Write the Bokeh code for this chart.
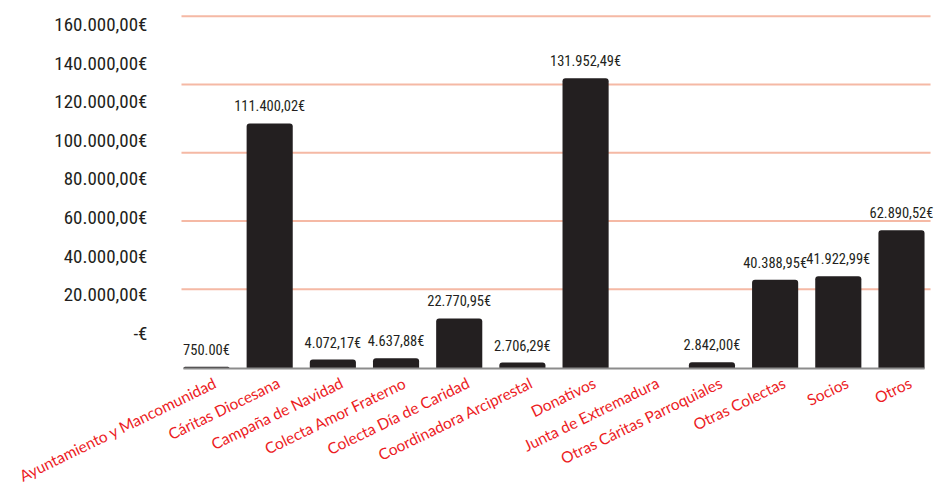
from bokeh.plotting import figure
from bokeh.models import Range1d, LabelSet, ColumnDataSource
from bokeh.core.properties import value
from bokeh.embed import file_html
from bokeh.resources import INLINE

categories = [
    "Ayuntamiento y Mancomunidad", "Cáritas Diocesana", "Campaña de Navidad",
    "Colecta Amor Fraterno", "Colecta Día de Caridad", "Coordinadora Arciprestal",
    "Donativos", "Junta de Extremadura", "Otras Cáritas Parroquiales",
    "Otras Colectas", "Socios", "Otros",
]
amounts = [750.00, 111400.02, 4072.17, 4637.88, 22770.95, 2706.29,
           131952.49, 0.0, 2842.00, 40388.95, 41922.99, 62890.52]
amount_labels = ["750.00€", "111.400,02€", "4.072,17€", "4.637,88€", "22.770,95€",
                 "2.706,29€", "131.952,49€", "", "2.842,00€", "40.388,95€",
                 "41.922,99€", "62.890,52€"]
tick_values = [0, 20000, 40000, 60000, 80000, 100000, 120000, 140000, 160000]
tick_labels = ["-€", "20.000,00€", "40.000,00€", "60.000,00€", "80.000,00€",
               "100.000,00€", "120.000,00€", "140.000,00€", "160.000,00€"]
grid_values = [0, 40000, 80000, 120000, 160000]

BAR = "#231f20"
RED = "#ec1c24"
GRID = "#f5b9a5"
NARROW = "Roboto Condensed, Liberation Sans Narrow, Roboto, sans-serif"
W, H = 938, 486
BAR_W = 0.73

xs = list(range(len(categories)))
bars = ColumnDataSource(data=dict(x=xs, cat=categories, amount=amounts, label=amount_labels))
ticks = ColumnDataSource(data=dict(v=tick_values, t=tick_labels))
grid = ColumnDataSource(data=dict(v=grid_values))

# one category step = 63.18 px, first bar centred at x=206 px
p = figure(width=W, height=H,
           x_range=Range1d(-206 / 63.18, (W - 206) / 63.18),
           y_range=Range1d(-53636, 167273),          # bar scale: baseline at y=368 px
           output_backend="svg", toolbar_location=None,
           min_border_left=0, min_border_right=0, min_border_top=0, min_border_bottom=0)
p.extra_y_ranges = {
    "ticks": Range1d(-79223, 172427),   # value-axis labels
    "grid": Range1d(-115634, 169201),   # background rules
}
p.outline_line_color = None
p.xaxis.visible = False
p.yaxis.visible = False
p.xgrid.visible = False
p.ygrid.visible = False

# background rules
p.segment(x0=-0.396, x1=11.46, y0="v", y1="v", source=grid, y_range_name="grid",
          line_color=GRID, line_width=2)

# bars
p.vbar(x="x", top="amount", bottom=0, width=BAR_W, source=bars,
       fill_color=BAR, line_color=None, border_radius=(3, 3, 0, 0))

# baseline
p.segment(x0=-BAR_W / 2, x1=len(categories) - 1 + BAR_W / 2, y0=0, y1=0,
          line_color="#8c8c8c", line_width=2)

# value labels
p.add_layout(LabelSet(x="x", y="amount", text="label", source=bars,
                      text_align="center", text_baseline="bottom",
                      y_offset=8, text_color=BAR, text_font=value(NARROW),
                      text_font_size=value("14.5px")))

# category labels
p.add_layout(LabelSet(x="x", y=0, text="cat", source=bars,
                      angle=0.453, text_align="right", text_baseline="top",
                      x_offset=5, y_offset=-5, text_color=RED,
                      text_font=value("Lato"), text_font_size=value("15.5px")))

# value-axis tick labels
p.add_layout(LabelSet(x=147, x_units="screen", y="v", text="t", source=ticks,
                      y_range_name="ticks", text_align="right", text_baseline="middle",
                      text_color=BAR, text_font=value(NARROW),
                      text_font_size=value("19px")))

open("out.html", "w").write(file_html(p, INLINE))
